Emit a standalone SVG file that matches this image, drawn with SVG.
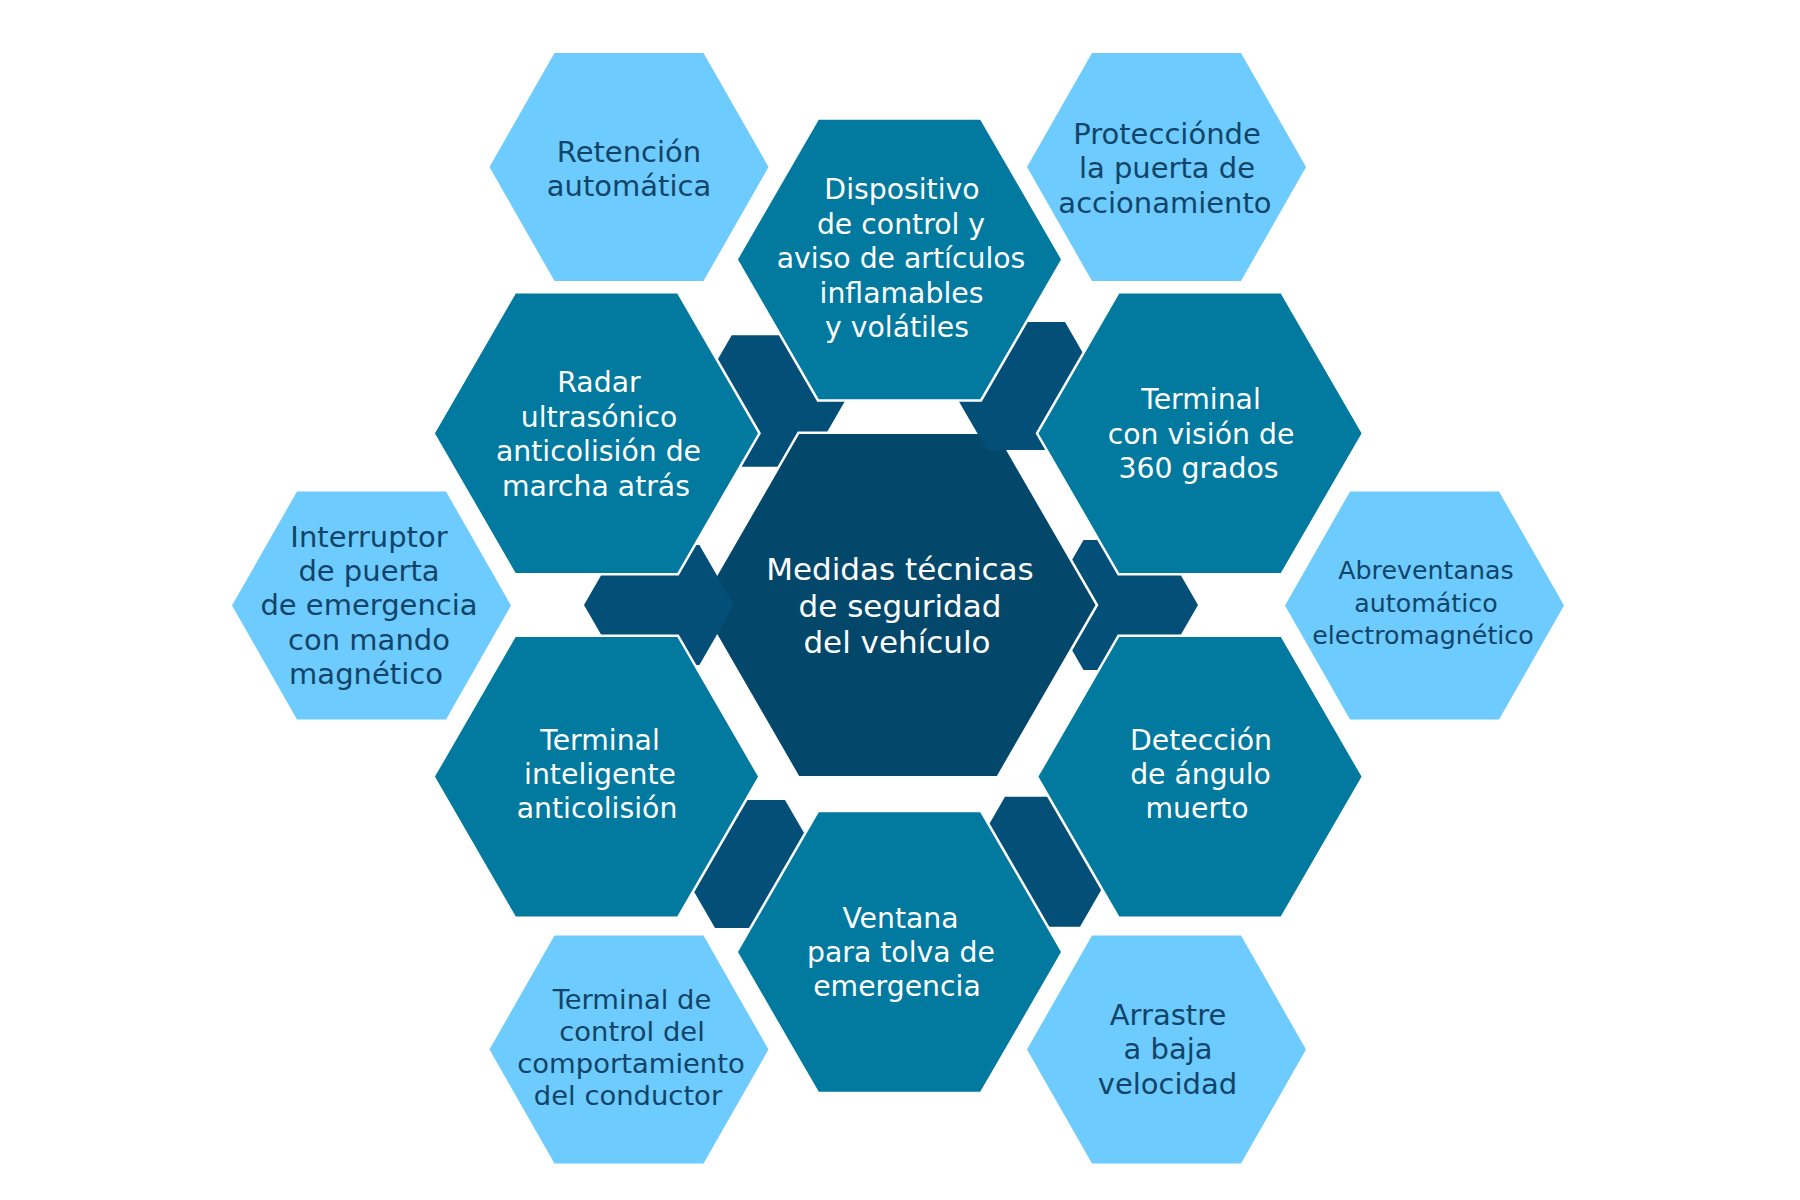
<svg xmlns="http://www.w3.org/2000/svg" width="1800" height="1200" viewBox="0 0 1800 1200">
<style>
.light{fill:#6dcbfd}
.mid{fill:#02799f;stroke:#ffffff;stroke-width:2.5;stroke-linejoin:miter}
.core{fill:#03476b;stroke:#ffffff;stroke-width:2.5}
.conn{fill:#034f78}
text{font-family:"DejaVu Sans","Liberation Sans",sans-serif;text-anchor:middle}
.tl{fill:#114469;font-size:29px}
.tm{fill:#ffffff;font-size:28.3px}
.tc{fill:#ffffff;font-size:31px}
</style>
<rect x="0" y="0" width="1800" height="1200" fill="#ffffff"/>

<g id="node-retencion">
<polygon class="light" points="489.5,167 554.5,53 703.5,53 768.5,167 703.5,281 554.5,281"/>
<text class="tl"><tspan x="629" y="161.7">Retención</tspan><tspan x="629" y="196">automática</tspan></text>
</g>
<g id="node-proteccion">
<polygon class="light" points="1027,167 1092,53 1241,53 1306,167 1241,281 1092,281"/>
<text class="tl"><tspan x="1167" y="144">Protecciónde</tspan><tspan x="1167" y="178.4">la puerta de</tspan><tspan x="1165" y="212.8">accionamiento</tspan></text>
</g>
<g id="node-interruptor">
<polygon class="light" points="232,605.5 297,491.5 446,491.5 511,605.5 446,719.5 297,719.5"/>
<text class="tl"><tspan x="369" y="547">Interruptor</tspan><tspan x="369" y="581">de puerta</tspan><tspan x="369" y="615.3">de emergencia</tspan><tspan x="369" y="649.5">con mando</tspan><tspan x="366" y="683.7">magnético</tspan></text>
</g>
<g id="node-abreventanas">
<polygon class="light" points="1285,605.5 1350,491.5 1499,491.5 1564,605.5 1499,719.5 1350,719.5"/>
<text class="tl" style="font-size:25.3px"><tspan x="1426" y="579">Abreventanas</tspan><tspan x="1426" y="611.5">automático</tspan><tspan x="1423" y="644">electromagnético</tspan></text>
</g>
<g id="node-terminal-control">
<polygon class="light" points="489.5,1049.5 554.5,935.5 703.5,935.5 768.5,1049.5 703.5,1163.5 554.5,1163.5"/>
<text class="tl" style="font-size:27.4px"><tspan x="632" y="1009">Terminal de</tspan><tspan x="632" y="1041">control del</tspan><tspan x="631" y="1073">comportamiento</tspan><tspan x="628" y="1105">del conductor</tspan></text>
</g>
<g id="node-arrastre">
<polygon class="light" points="1027,1049.5 1092,935.5 1241,935.5 1306,1049.5 1241,1163.5 1092,1163.5"/>
<text class="tl"><tspan x="1168" y="1024.5">Arrastre</tspan><tspan x="1168" y="1059">a baja</tspan><tspan x="1167.5" y="1093.5">velocidad</tspan></text>
</g>

<g id="connectors-back" class="connectors">
<polygon class="conn" points="1046,605 1083.5,540 1160.5,540 1198,605 1160.5,670 1083.5,670"/>
<polygon class="conn" points="693.7,401 731.7,335.2 807,335.2 845,401 807,466.8 731.7,466.8"/>
<polygon class="conn" points="678,864 715,800 785,800 822,864 785,928 715,928"/>
<polygon class="conn" points="967.5,861.7 1005,796.7 1080,796.7 1117.5,861.7 1080,926.7 1005,926.7"/>
</g>

<g id="node-center">
<polygon class="core" points="699,605 798.5,432.7 997.5,432.7 1097,605 997.5,777.3 798.5,777.3"/>
</g>

<g id="connectors-front" class="connectors">
<polygon class="conn" points="584,605 618.6,545 699.4,545 734,605 699.4,665 618.6,665"/>
<polygon class="conn" points="950,386 987,322 1065,322 1102,386 1065,450 987,450"/>
</g>

<g id="node-center-label">
<text class="tc"><tspan x="900" y="580">Medidas técnicas</tspan><tspan x="900" y="616.7">de seguridad</tspan><tspan x="897" y="653.3">del vehículo</tspan></text>
</g>

<g id="node-dispositivo">
<polygon class="mid" points="736.5,259.5 818,118.5 981,118.5 1062.5,259.5 981,400.5 818,400.5"/>
<text class="tm"><tspan x="902" y="199.3">Dispositivo</tspan><tspan x="901" y="234">de control y</tspan><tspan x="901" y="268.3">aviso de artículos</tspan><tspan x="901.5" y="302.7">inflamables</tspan><tspan x="897" y="337">y volátiles</tspan></text>
</g>
<g id="node-radar">
<polygon class="mid" points="433.5,433.3 515,292.3 678,292.3 759.5,433.3 678,574.3 515,574.3"/>
<text class="tm"><tspan x="599" y="392">Radar</tspan><tspan x="599" y="426.5">ultrasónico</tspan><tspan x="598.5" y="461">anticolisión de</tspan><tspan x="596" y="495.5">marcha atrás</tspan></text>
</g>
<g id="node-terminal-360">
<polygon class="mid" points="1037,433.3 1118.5,292.3 1281.5,292.3 1363,433.3 1281.5,574.3 1118.5,574.3"/>
<text class="tm"><tspan x="1201" y="409">Terminal</tspan><tspan x="1201" y="443.5">con visión de</tspan><tspan x="1198.5" y="478">360 grados</tspan></text>
</g>
<g id="node-terminal-inteligente">
<polygon class="mid" points="433.5,776.7 515,635.7 678,635.7 759.5,776.7 678,917.7 515,917.7"/>
<text class="tm"><tspan x="600" y="750">Terminal</tspan><tspan x="600" y="784">inteligente</tspan><tspan x="597" y="818">anticolisión</tspan></text>
</g>
<g id="node-deteccion">
<polygon class="mid" points="1037,776.7 1118.5,635.7 1281.5,635.7 1363,776.7 1281.5,917.7 1118.5,917.7"/>
<text class="tm"><tspan x="1201" y="750">Detección</tspan><tspan x="1200.5" y="784">de ángulo</tspan><tspan x="1197" y="818">muerto</tspan></text>
</g>
<g id="node-ventana">
<polygon class="mid" points="736.5,952 818,811 981,811 1062.5,952 981,1093 818,1093"/>
<text class="tm"><tspan x="900.5" y="927.5">Ventana</tspan><tspan x="901" y="961.5">para tolva de</tspan><tspan x="897" y="995.5">emergencia</tspan></text>
</g>
</svg>
